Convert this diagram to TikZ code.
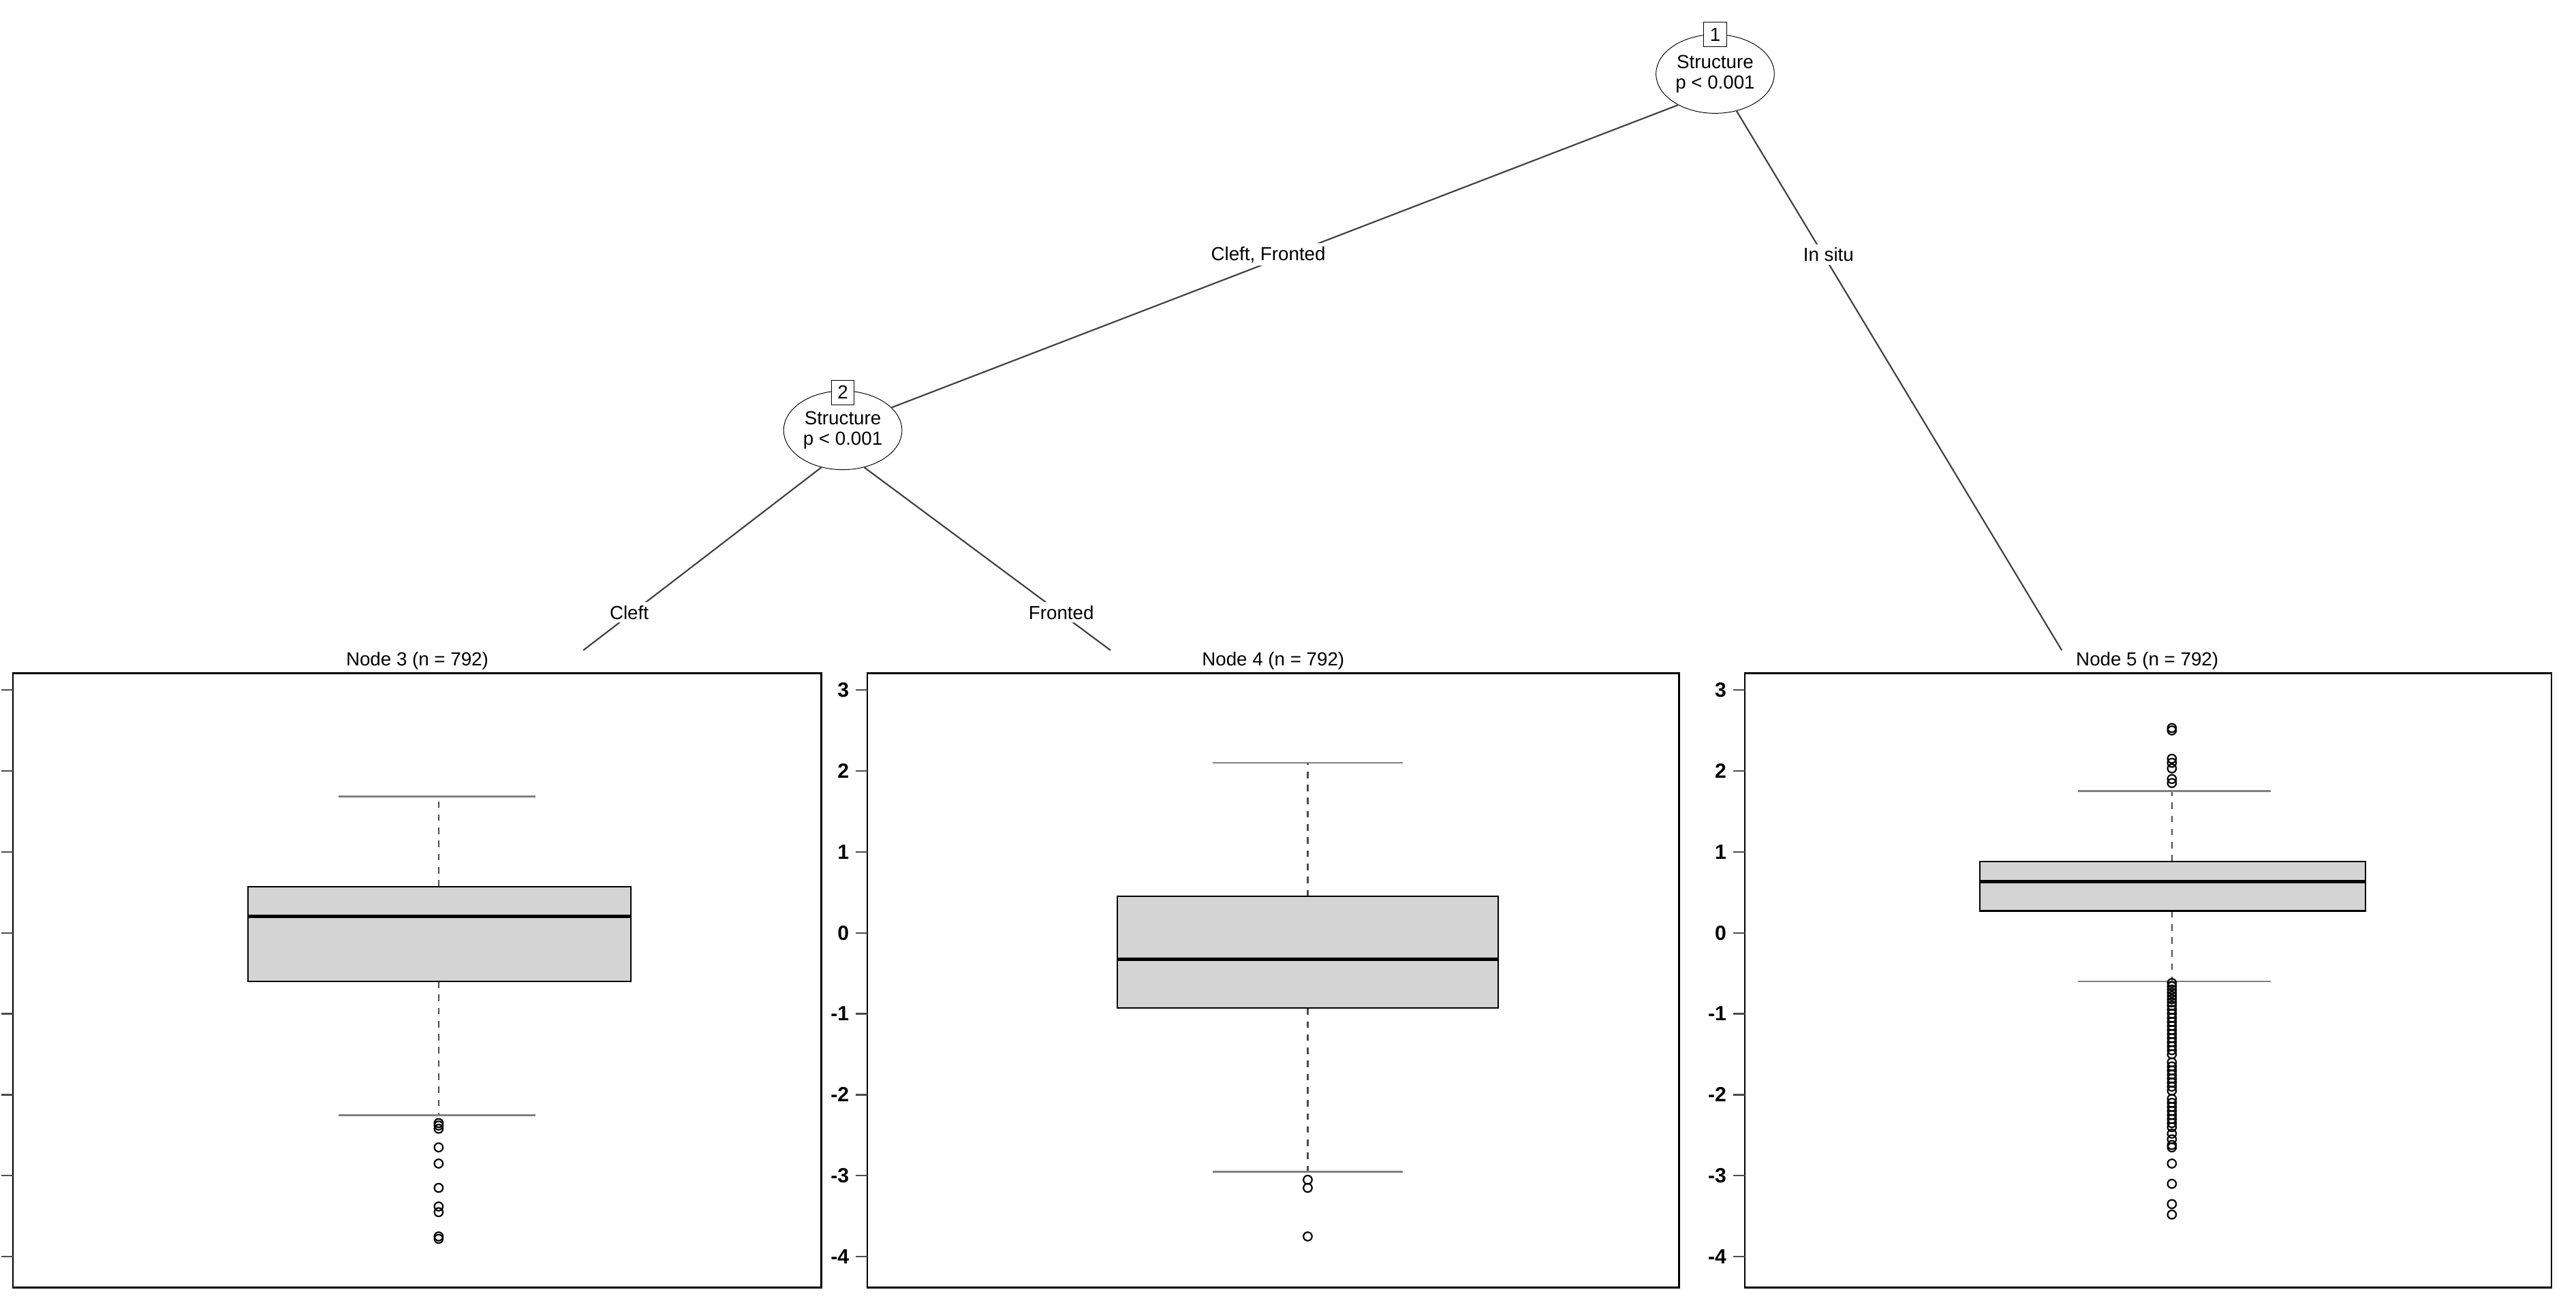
\documentclass[tikz,border=0pt]{standalone}
\usepackage{fontspec}
\setmainfont{Liberation Sans}
\usetikzlibrary{shapes.geometric}
\begin{document}
\begin{tikzpicture}[x=1pt,y=-1pt,
  every node/.style={font=\fontsize{11.5}{13}\selectfont},
  mysplit/.style={ellipse,draw,minimum width=72pt,minimum height=48pt,inner sep=0pt,align=center,font=\fontsize{11.5}{12.5}\selectfont},
  myidbox/.style={draw,fill=white,inner sep=1.5pt,minimum width=14pt,minimum height=15pt,font=\fontsize{11.5}{12}\selectfont},
  myedge/.style={draw=black!75,line width=0.9pt},
  myelab/.style={fill=white,inner sep=2pt},
  mypanel/.style={draw,line width=1pt},
  mytick/.style={draw=black!70,line width=0.9pt},
  mytlab/.style={anchor=east,font=\fontsize{12.5}{13}\selectfont\bfseries},
  mybx/.style={draw,fill=black!17,line width=0.9pt},
  mymed/.style={line width=2pt},
  mywhisk/.style={draw=black!70,dash pattern=on 4pt off 4pt,line width=0.9pt},
  mywcap/.style={draw=black!50,line width=1.2pt},
  myout/.style={draw,line width=0.9pt}]
\useasboundingbox (0,0) rectangle (1568,797);
% tree
\node[mysplit] (n1) at (1044,45) {Structure\\p < 0.001};
\node[myidbox] (b1) at (1044,21) {1};
\node[mysplit] (n2) at (513,262) {Structure\\p < 0.001};
\node[myidbox] (b2) at (513,239) {2};
\coordinate (c3) at (355,396);
\coordinate (c4) at (676,396);
\coordinate (c5) at (1255,396);
\draw[myedge] (n1.220) -- (n2.25);
\draw[myedge] (n1.-60) -- (c5);
\draw[myedge] (n2.240) -- (c3);
\draw[myedge] (n2.-60) -- (c4);
\node[myelab] (l1) at (772,155) {Cleft, Fronted};
\node[myelab] (l2) at (1113,155) {In situ};
\node[myelab] (l3) at (383,373) {Cleft};
\node[myelab] (l4) at (646,373) {Fronted};
% panels
\foreach \L/\R/\T/\C in {8/500/Node 3 (n = 792)/254, 528/1022/Node 4 (n = 792)/775, 1062/1553/Node 5 (n = 792)/1307}{
  \draw[mypanel] (\L,410) rectangle (\R,784);
  \node[anchor=south,inner sep=1pt] at (\C,409) {\T};
  \foreach \v in {3,2,1,0,-1,-2,-3,-4}{
    \draw[mytick] (\L-7,568-49.3*\v) -- (\L,568-49.3*\v);
    \node[mytlab,inner sep=1pt] at (\L-10,568-49.3*\v) {\v};
  }
}
% box 1
\draw[mywhisk] (267,568-49.3*0.57) -- (267,568-49.3*1.68);
\draw[mywhisk] (267,568+49.3*0.6) -- (267,568+49.3*2.25);
\draw[mywcap] (206,568-49.3*1.68) -- (326,568-49.3*1.68);
\draw[mywcap] (206,568+49.3*2.25) -- (326,568+49.3*2.25);
\draw[mybx] (151,568-49.3*0.57) rectangle (384,568+49.3*0.6);
\draw[mymed] (151,568-49.3*0.2) -- (384,568-49.3*0.2);
\foreach \v in {2.35,2.38,2.42,2.65,2.85,3.15,3.38,3.45,3.75,3.78}{\draw[myout] (267,568+49.3*\v) circle (2.6);}
% box 2
\draw[mywhisk] (796,568-49.3*0.45) -- (796,568-49.3*2.1);
\draw[mywhisk] (796,568+49.3*0.93) -- (796,568+49.3*2.95);
\draw[mywcap] (738,568-49.3*2.1) -- (854,568-49.3*2.1);
\draw[mywcap] (738,568+49.3*2.95) -- (854,568+49.3*2.95);
\draw[mybx] (680,568-49.3*0.45) rectangle (912,568+49.3*0.93);
\draw[mymed] (680,568+49.3*0.33) -- (912,568+49.3*0.33);
\foreach \v in {3.05,3.15,3.75}{\draw[myout] (796,568+49.3*\v) circle (2.6);}
% box 3
\draw[mywhisk] (1322,568-49.3*0.88) -- (1322,568-49.3*1.75);
\draw[mywhisk] (1322,568-49.3*0.27) -- (1322,568+49.3*0.6);
\draw[mywcap] (1265,568-49.3*1.75) -- (1382,568-49.3*1.75);
\draw[mywcap] (1265,568+49.3*0.6) -- (1382,568+49.3*0.6);
\draw[mybx] (1205,568-49.3*0.88) rectangle (1440,568-49.3*0.27);
\draw[mymed] (1205,568-49.3*0.63) -- (1440,568-49.3*0.63);
\foreach \v in {2.5,2.53,2.15,2.1,2.03,1.9,1.85}{\draw[myout] (1322,568-49.3*\v) circle (2.6);}
\foreach \v in {0.62,0.66,0.7,0.74,0.78,0.82,0.86,0.9,0.95,1.0,1.05,1.1,1.15,1.2,1.25,1.3,1.35,1.4,1.45,1.5,1.6,1.65,1.7,1.75,1.8,1.85,1.9,1.95,2.05,2.1,2.15,2.2,2.25,2.3,2.35,2.4,2.48,2.55,2.62,2.65,2.85,3.1,3.35,3.48}{\draw[myout] (1322,568+49.3*\v) circle (2.6);}
\end{tikzpicture}
\end{document}
